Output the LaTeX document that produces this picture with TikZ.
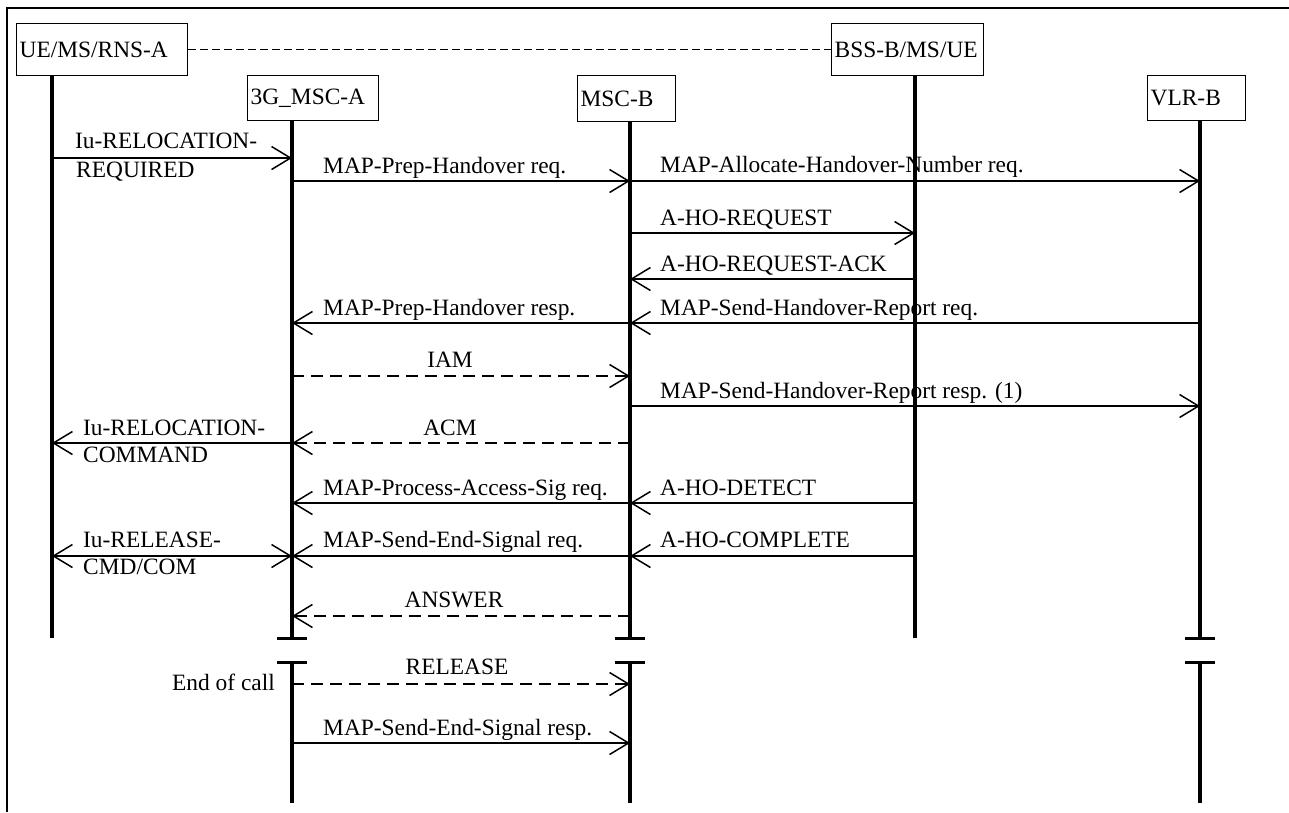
\documentclass[tikz,border=0pt]{standalone}
\usepackage{fontspec}
\setmainfont{Liberation Serif}
\usetikzlibrary{arrows.meta}
\begin{document}
\begin{tikzpicture}[x=1pt,y=-1pt,
  >={Straight Barb[length=19pt,width=23pt]},
  every node/.style={font=\fontsize{23.4}{27}\selectfont, inner sep=0pt},
  entity/.style={draw, line width=1.3pt, anchor=north west, inner xsep=3pt, inner ysep=0pt, align=left},
  life/.style={line width=3.5pt},
  endbar/.style={line width=3pt},
  msg/.style={line width=1.5pt, ->},
  dmsg/.style={msg, dash pattern=on 12pt off 7pt},
  bmsg/.style={line width=1.5pt, <->},
  lbl/.style={anchor=base west},
  clbl/.style={anchor=base},
  frame/.style={line width=1.3pt}
]
\useasboundingbox (0,0) rectangle (1289,812);
\draw[frame] (1289,8) -- (7,8) -- (7,812);

% entities
\node[entity, minimum width=171pt, minimum height=52pt, text width=165pt] (ue) at (16,23) {UE/MS/RNS-A};
\node[entity, minimum width=131pt, minimum height=45pt, text width=125pt] (msca) at (247,75) {3G\_MSC-A};
\node[entity, minimum width=98pt, minimum height=46pt, text width=92pt] (mscb) at (577,75) {MSC-B};
\node[entity, minimum width=152pt, minimum height=52pt, text width=146pt] (bss) at (831,23) {BSS-B/MS/UE};
\node[entity, minimum width=98pt, minimum height=45pt, text width=92pt] (vlr) at (1147,75) {VLR-B};

\draw[line width=1.3pt, dash pattern=on 8pt off 4pt] (ue.east) -- (bss.west);

% lifeline positions
\coordinate (Lue) at (52,0);
\coordinate (Lmsca) at (292,0);
\coordinate (Lmscb) at (630,0);
\coordinate (Lbss) at (915,0);
\coordinate (Lvlr) at (1200,0);

% lifelines
\draw[life] (Lue |- ue.south) -- (Lue |- 0,638);
\draw[life] (Lbss |- bss.south) -- (Lbss |- 0,638);
\draw[life] (Lmsca |- msca.south) -- (Lmsca |- 0,638);
\draw[life] (Lmscb |- mscb.south) -- (Lmscb |- 0,638);
\draw[life] (Lvlr |- vlr.south) -- (Lvlr |- 0,638);
\draw[life] (Lmsca |- 0,662) -- (Lmsca |- 0,803);
\draw[life] (Lmscb |- 0,662) -- (Lmscb |- 0,803);
\draw[life] (Lvlr |- 0,662) -- (Lvlr |- 0,803);
% end bars
\draw[endbar] (277,638) -- (307,638);
\draw[endbar] (277,662) -- (307,662);
\draw[endbar] (615,638) -- (645,638);
\draw[endbar] (615,662) -- (645,662);
\draw[endbar] (1185,638) -- (1215,638);
\draw[endbar] (1185,662) -- (1215,662);

% messages
\draw[msg] (Lue |- 0,158) -- (Lmsca |- 0,158);
\node[lbl] (l1a) at (75,148) {Iu-RELOCATION-};
\node[lbl] (l1b) at (76,177) {REQUIRED};

\draw[msg] (Lmsca |- 0,181) -- (Lmscb |- 0,181);
\node[lbl] (l2) at (323,173) {MAP-Prep-Handover req.};

\draw[msg] (Lmscb |- 0,181) -- (Lvlr |- 0,181);
\node[lbl] (l3) at (660,172) {MAP-Allocate-Handover-Number req.};

\draw[msg] (Lmscb |- 0,233) -- (Lbss |- 0,233);
\node[lbl] (l4) at (660,225) {A-HO-REQUEST};

\draw[msg] (Lbss |- 0,279) -- (Lmscb |- 0,279);
\node[lbl] (l5) at (660,271) {A-HO-REQUEST-ACK};

\draw[msg] (Lmscb |- 0,323) -- (Lmsca |- 0,323);
\node[lbl] (l6) at (323,315) {MAP-Prep-Handover resp.};

\draw[msg] (Lvlr |- 0,323) -- (Lmscb |- 0,323);
\node[lbl] (l7) at (660,315) {MAP-Send-Handover-Report req.};

\draw[dmsg] (Lmsca |- 0,376) -- (Lmscb |- 0,376);
\node[clbl] (l8) at (450,367) {IAM};

\draw[msg] (Lmscb |- 0,406) -- (Lvlr |- 0,406);
\node[lbl] (l9) at (660,398) {MAP-Send-Handover-Report resp. (1)};

\draw[dmsg] (Lmscb |- 0,443) -- (Lmsca |- 0,443);
\node[clbl] (l10) at (450,435) {ACM};

\draw[msg] (Lmsca |- 0,443) -- (Lue |- 0,443);
\node[lbl] (l11a) at (83,435) {Iu-RELOCATION-};
\node[lbl] (l11b) at (83,462) {COMMAND};

\draw[msg] (Lmscb |- 0,503) -- (Lmsca |- 0,503);
\node[lbl] (l12) at (323,495) {MAP-Process-Access-Sig req.};

\draw[msg] (Lbss |- 0,503) -- (Lmscb |- 0,503);
\node[lbl] (l13) at (660,495) {A-HO-DETECT};

\draw[bmsg] (Lue |- 0,556) -- (Lmsca |- 0,556);
\node[lbl] (l14a) at (83,547) {Iu-RELEASE-};
\node[lbl] (l14b) at (83,574) {CMD/COM};

\draw[msg] (Lmscb |- 0,556) -- (Lmsca |- 0,556);
\node[lbl] (l15) at (323,547) {MAP-Send-End-Signal req.};

\draw[msg] (Lbss |- 0,556) -- (Lmscb |- 0,556);
\node[lbl] (l16) at (660,547) {A-HO-COMPLETE};

\draw[dmsg] (Lmscb |- 0,616) -- (Lmsca |- 0,616);
\node[clbl] (l17) at (454,607) {ANSWER};

\draw[dmsg] (Lmsca |- 0,684) -- (Lmscb |- 0,684);
\node[clbl] (l18) at (457,674) {RELEASE};
\node[anchor=base east] (l19) at (275,690) {End of call};

\draw[msg] (Lmsca |- 0,743) -- (Lmscb |- 0,743);
\node[lbl] (l20) at (323,735) {MAP-Send-End-Signal resp.};
\end{tikzpicture}
\end{document}
